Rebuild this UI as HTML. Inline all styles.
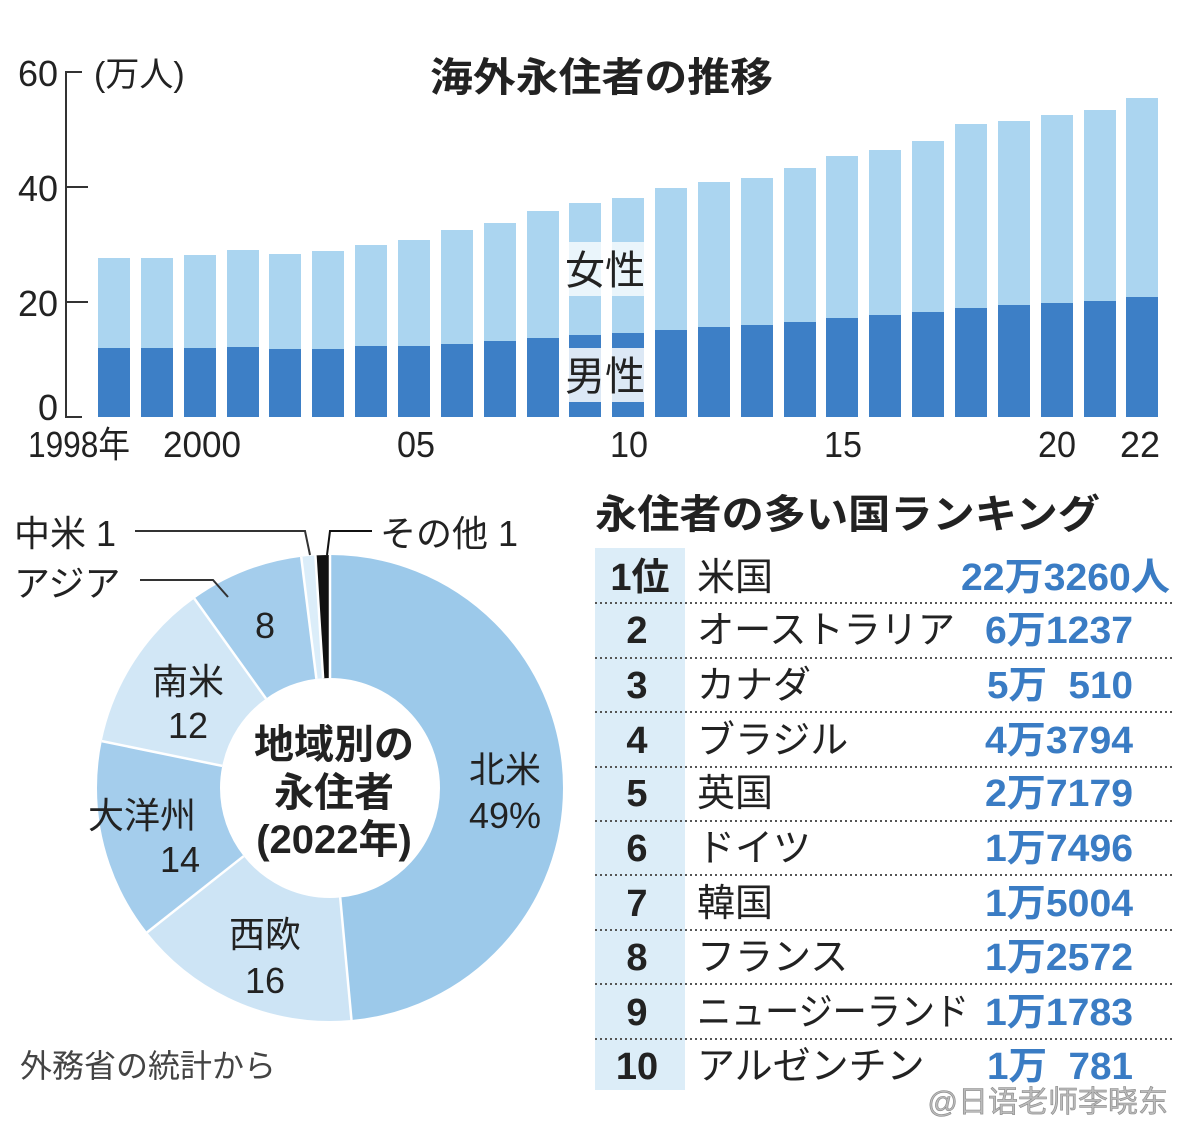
<!DOCTYPE html>
<html><head><meta charset="utf-8"><style>
html,body{margin:0;padding:0;background:#fff;}
svg{display:block;}
text{font-family:"Liberation Sans","Noto Sans CJK JP",sans-serif;fill:#222;}
.b{font-weight:bold;}
.v{fill:#3a7cc4;font-weight:bold;}
</style></head><body>
<svg width="1179" height="1128" viewBox="0 0 1179 1128" xmlns="http://www.w3.org/2000/svg">
<rect width="1179" height="1128" fill="#fff"/>
<path d="M82,72 H66 V417 H82 M66,187 H88 M66,302 H88" stroke="#333" stroke-width="2" fill="none"/>
<text x="58" y="86" font-size="36" text-anchor="end">60</text>
<text x="58" y="201" font-size="36" text-anchor="end">40</text>
<text x="58" y="316" font-size="36" text-anchor="end">20</text>
<text x="58" y="420" font-size="36" text-anchor="end">0</text>
<text x="94" y="86" font-size="34">(万人)</text>
<text x="430" y="91" font-size="40" class="b" textLength="343" lengthAdjust="spacingAndGlyphs">海外永住者の推移</text>
<g fill="#abd5f0">
<rect x="98" y="258" width="32" height="159"/>
<rect x="141" y="258" width="32" height="159"/>
<rect x="184" y="255" width="32" height="162"/>
<rect x="227" y="250" width="32" height="167"/>
<rect x="269" y="254" width="32" height="163"/>
<rect x="312" y="251" width="32" height="166"/>
<rect x="355" y="245" width="32" height="172"/>
<rect x="398" y="240" width="32" height="177"/>
<rect x="441" y="230" width="32" height="187"/>
<rect x="484" y="223" width="32" height="194"/>
<rect x="527" y="211" width="32" height="206"/>
<rect x="569" y="203" width="32" height="214"/>
<rect x="612" y="198" width="32" height="219"/>
<rect x="655" y="188" width="32" height="229"/>
<rect x="698" y="182" width="32" height="235"/>
<rect x="741" y="178" width="32" height="239"/>
<rect x="784" y="168" width="32" height="249"/>
<rect x="826" y="156" width="32" height="261"/>
<rect x="869" y="150" width="32" height="267"/>
<rect x="912" y="141" width="32" height="276"/>
<rect x="955" y="124" width="32" height="293"/>
<rect x="998" y="121" width="32" height="296"/>
<rect x="1041" y="115" width="32" height="302"/>
<rect x="1084" y="110" width="32" height="307"/>
<rect x="1126" y="98" width="32" height="319"/>
</g>
<g fill="#3d7fc6">
<rect x="98" y="348" width="32" height="69"/>
<rect x="141" y="348" width="32" height="69"/>
<rect x="184" y="348" width="32" height="69"/>
<rect x="227" y="347" width="32" height="70"/>
<rect x="269" y="349" width="32" height="68"/>
<rect x="312" y="349" width="32" height="68"/>
<rect x="355" y="346" width="32" height="71"/>
<rect x="398" y="346" width="32" height="71"/>
<rect x="441" y="344" width="32" height="73"/>
<rect x="484" y="341" width="32" height="76"/>
<rect x="527" y="338" width="32" height="79"/>
<rect x="569" y="335" width="32" height="82"/>
<rect x="612" y="333" width="32" height="84"/>
<rect x="655" y="330" width="32" height="87"/>
<rect x="698" y="327" width="32" height="90"/>
<rect x="741" y="325" width="32" height="92"/>
<rect x="784" y="322" width="32" height="95"/>
<rect x="826" y="318" width="32" height="99"/>
<rect x="869" y="315" width="32" height="102"/>
<rect x="912" y="312" width="32" height="105"/>
<rect x="955" y="308" width="32" height="109"/>
<rect x="998" y="305" width="32" height="112"/>
<rect x="1041" y="303" width="32" height="114"/>
<rect x="1084" y="301" width="32" height="116"/>
<rect x="1126" y="297" width="32" height="120"/>
</g>
<rect x="566" y="242" width="82" height="54" fill="#fff" opacity="0.75"/>
<rect x="566" y="348" width="82" height="54" fill="#fff" opacity="0.82"/>
<text x="605" y="284" font-size="40" text-anchor="middle">女性</text>
<text x="605" y="390" font-size="40" text-anchor="middle">男性</text>
<text x="28" y="457" font-size="36" textLength="102" lengthAdjust="spacingAndGlyphs">1998年</text>
<text x="163" y="457" font-size="36" textLength="78" lengthAdjust="spacingAndGlyphs">2000</text>
<text x="397" y="457" font-size="36" textLength="38" lengthAdjust="spacingAndGlyphs">05</text>
<text x="610" y="457" font-size="36" textLength="38" lengthAdjust="spacingAndGlyphs">10</text>
<text x="824" y="457" font-size="36" textLength="38" lengthAdjust="spacingAndGlyphs">15</text>
<text x="1038" y="457" font-size="36" textLength="38" lengthAdjust="spacingAndGlyphs">20</text>
<text x="1120" y="457" font-size="36" textLength="40" lengthAdjust="spacingAndGlyphs">22</text>

<g transform="rotate(-90 330 788)" fill="none" stroke-width="123">
<circle cx="330" cy="788" r="171.5" stroke="#9cc9ea" stroke-dasharray="522.8 2000" stroke-dashoffset="0"/>
<circle cx="330" cy="788" r="171.5" stroke="#cde4f5" stroke-dasharray="170.7 2000" stroke-dashoffset="-522.8"/>
<circle cx="330" cy="788" r="171.5" stroke="#a4cdec" stroke-dasharray="149.4 2000" stroke-dashoffset="-693.5"/>
<circle cx="330" cy="788" r="171.5" stroke="#d2e7f6" stroke-dasharray="128 2000" stroke-dashoffset="-842.9"/>
<circle cx="330" cy="788" r="171.5" stroke="#a4cdec" stroke-dasharray="85.4 2000" stroke-dashoffset="-970.9"/>
<circle cx="330" cy="788" r="171.5" stroke="#dbedf9" stroke-dasharray="10.7 2000" stroke-dashoffset="-1056.3"/>
<circle cx="330" cy="788" r="171.5" stroke="#111" stroke-dasharray="10.7 2000" stroke-dashoffset="-1067"/>
</g>
<g stroke="#fff" stroke-width="2.5">
<line x1="330" y1="678" x2="330" y2="555"/>
<line x1="340.2" y1="897.5" x2="351.5" y2="1020"/>
<line x1="243.6" y1="856.2" x2="147.1" y2="932.4"/>
<line x1="222.2" y1="765.9" x2="101.8" y2="741.1"/>
<line x1="266" y1="698.6" x2="194.3" y2="598.5"/>
<line x1="316.4" y1="678.8" x2="301.2" y2="556.8"/>
<line x1="323.1" y1="678.2" x2="315.4" y2="555.5"/>
</g>
<path d="M135,531 H305 L310,555" stroke="#333" stroke-width="2" fill="none"/>
<path d="M140,580 H213 L228,597" stroke="#333" stroke-width="2" fill="none"/>
<path d="M372,531 H330 L327,555" stroke="#111" stroke-width="2" fill="none"/>
<text x="14" y="546" font-size="36">中米 1</text>
<text x="14" y="596" font-size="36">アジア</text>
<text x="380" y="546" font-size="36">その他 1</text>
<g font-size="36" text-anchor="middle">
<text x="265" y="638">8</text>
<text x="188" y="694">南米</text>
<text x="188" y="738">12</text>
<text x="505" y="782">北米</text>
<text x="505" y="828">49%</text>
<text x="142" y="828">大洋州</text>
<text x="180" y="872">14</text>
<text x="265" y="947">西欧</text>
<text x="265" y="993">16</text>
</g>
<g font-size="40" text-anchor="middle">
<text x="334" y="758" class="b">地域別の</text>
<text x="334" y="806" class="b">永住者</text>
<text x="334" y="853" class="b">(2022年)</text>
</g>
<text x="20" y="1077" font-size="32" style="fill:#444">外務省の統計から</text>

<text x="595" y="528" font-size="40" class="b" textLength="505" lengthAdjust="spacingAndGlyphs">永住者の多い国ランキング</text>
<rect x="595" y="548" width="90" height="542" fill="#dcedf8"/>
<g stroke="#555" stroke-width="2" stroke-dasharray="2 3">
<line x1="595" y1="603" x2="1175" y2="603"/><line x1="595" y1="658" x2="1175" y2="658"/>
<line x1="595" y1="712" x2="1175" y2="712"/><line x1="595" y1="767" x2="1175" y2="767"/>
<line x1="595" y1="821" x2="1175" y2="821"/><line x1="595" y1="875" x2="1175" y2="875"/>
<line x1="595" y1="930" x2="1175" y2="930"/><line x1="595" y1="984" x2="1175" y2="984"/>
<line x1="595" y1="1039" x2="1175" y2="1039"/>
</g>
<g font-size="38">
<text x="640" y="590" class="b" text-anchor="middle">1位</text>
<text x="637" y="643" class="b" text-anchor="middle">2</text>
<text x="637" y="698" class="b" text-anchor="middle">3</text>
<text x="637" y="753" class="b" text-anchor="middle">4</text>
<text x="637" y="806" class="b" text-anchor="middle">5</text>
<text x="637" y="861" class="b" text-anchor="middle">6</text>
<text x="637" y="916" class="b" text-anchor="middle">7</text>
<text x="637" y="970" class="b" text-anchor="middle">8</text>
<text x="637" y="1025" class="b" text-anchor="middle">9</text>
<text x="637" y="1079" class="b" text-anchor="middle">10</text>
<text x="697" y="590">米国</text>
<text x="697" y="643" textLength="258" lengthAdjust="spacingAndGlyphs">オーストラリア</text>
<text x="697" y="698">カナダ</text>
<text x="697" y="753">ブラジル</text>
<text x="697" y="806">英国</text>
<text x="697" y="861">ドイツ</text>
<text x="697" y="916">韓国</text>
<text x="697" y="970">フランス</text>
<text x="697" y="1025" textLength="272" lengthAdjust="spacingAndGlyphs">ニュージーランド</text>
<text x="697" y="1079">アルゼンチン</text>
<text x="961" y="590" class="v" textLength="209" lengthAdjust="spacingAndGlyphs">22万3260人</text>
<text x="985" y="643" class="v" textLength="148" lengthAdjust="spacingAndGlyphs">6万1237</text>
<text x="987" y="698" class="v" xml:space="preserve" textLength="146" lengthAdjust="spacingAndGlyphs">5万  510</text>
<text x="985" y="753" class="v" textLength="148" lengthAdjust="spacingAndGlyphs">4万3794</text>
<text x="985" y="806" class="v" textLength="148" lengthAdjust="spacingAndGlyphs">2万7179</text>
<text x="985" y="861" class="v" textLength="148" lengthAdjust="spacingAndGlyphs">1万7496</text>
<text x="985" y="916" class="v" textLength="148" lengthAdjust="spacingAndGlyphs">1万5004</text>
<text x="985" y="970" class="v" textLength="148" lengthAdjust="spacingAndGlyphs">1万2572</text>
<text x="985" y="1025" class="v" textLength="148" lengthAdjust="spacingAndGlyphs">1万1783</text>
<text x="987" y="1079" class="v" xml:space="preserve" textLength="146" lengthAdjust="spacingAndGlyphs">1万  781</text>
</g>
<text x="1168" y="1112" font-size="30" text-anchor="end" style="fill:#bbb;stroke:#888;stroke-width:0.6">@日语老师李晓东</text>
</svg>
</body></html>
